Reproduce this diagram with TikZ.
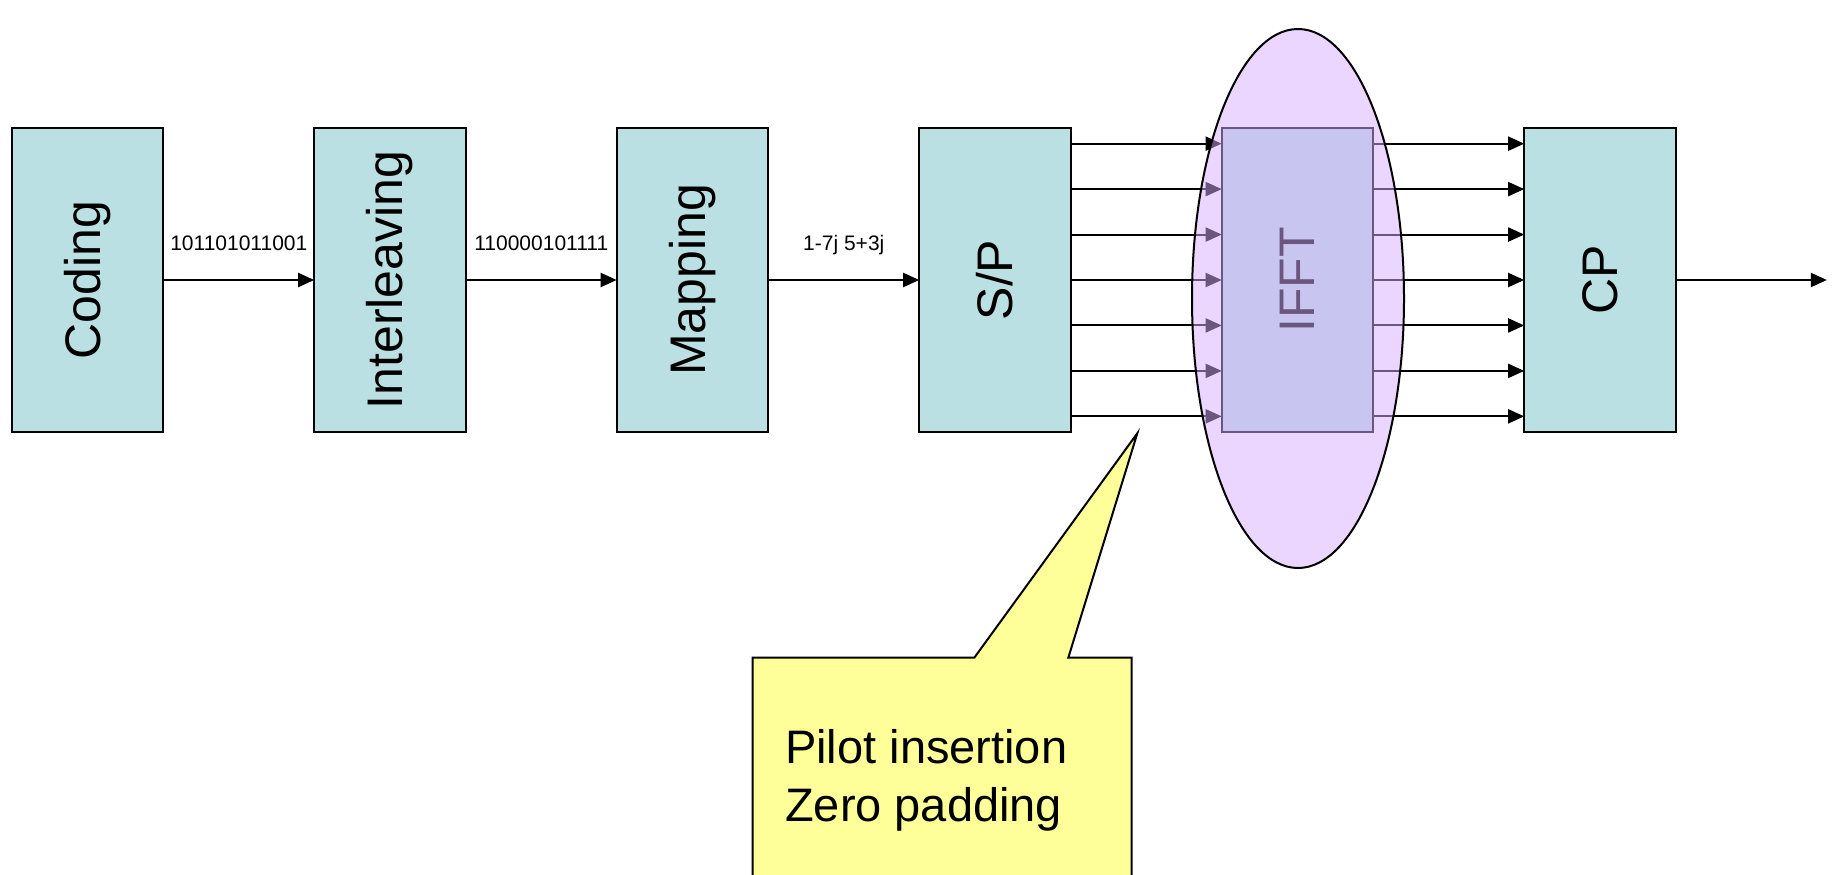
\documentclass[tikz,border=0pt]{standalone}
\usepackage{fontspec}
\setmainfont{Liberation Sans}
\usetikzlibrary{positioning,arrows.meta}
\definecolor{blockfill}{HTML}{BBE0E3}
\definecolor{notefill}{HTML}{FFFF99}
\definecolor{ifftglow}{HTML}{D6ADFF}

\begin{document}
\begin{tikzpicture}
  [x=1pt, y=1pt,
   blk/.style={
     draw,
     line width=2pt,
     fill=blockfill,
     minimum width=151.7pt,
     minimum height=303.3pt,
     inner sep=0pt, outer sep=0pt,
     font=\fontsize{50}{60}\selectfont},
   arr/.style={line width=2pt, -{Triangle[length=16pt,width=14pt]}},
   bits/.style={midway, anchor=base, yshift=30pt,
     font=\fontsize{21}{25}\selectfont},
   node distance=150.8pt]
  \useasboundingbox (0,0) rectangle (1841,-875);

  % transmitter chain
  \node[blk] (coding) at (87.55,-280) {\rotatebox{90}{Coding}};
  \node[blk, right=of coding] (interleave) {\rotatebox{90}{Interleaving}};
  \node[blk, right=of interleave] (mapping) {\rotatebox{90}{Mapping}};
  \node[blk, right=of mapping] (sp) {\rotatebox{90}{S/P}};
  \node[blk, right=of sp] (ifft) {\rotatebox{90}{IFFT}};
  \node[blk, right=of ifft] (cp) {\rotatebox{90}{CP}};
  \coordinate[right=151pt of cp.east] (out);

  \draw[arr] (coding) -- node[bits] {101101011001} (interleave);
  \draw[arr] (interleave) -- node[bits] {110000101111} (mapping);
  \draw[arr] (mapping) -- node[bits] {1-7j 5+3j} (sp);
  \foreach \i in {-3,...,3} {
    \draw[arr] ([yshift=\i*45.45pt]sp.east) -- ([yshift=\i*45.45pt]ifft.west);
    \draw[arr] ([yshift=\i*45.45pt]ifft.east) -- ([yshift=\i*45.45pt]cp.west);
  }
  \draw[arr] (cp) -- (out);

  % highlight round the IFFT
  \draw[line width=2pt, fill=ifftglow, fill opacity=0.5]
    (1298,-298.5) ellipse [x radius=106, y radius=269.5];

  % callout
  \draw[line width=2pt, fill=notefill]
    (752.7,-657.7) -- (974.3,-657.7) -- (1137.3,-433.3) -- (1068.3,-657.7)
    -- (1131.7,-657.7) -- (1131.7,-890) -- (752.7,-890) -- cycle;
  \node[anchor=base west, align=left, inner sep=0pt,
    font=\fontsize{47}{58}\selectfont] (note) at (785,-821.3)
    {Pilot insertion\\Zero padding};
\end{tikzpicture}
\end{document}
